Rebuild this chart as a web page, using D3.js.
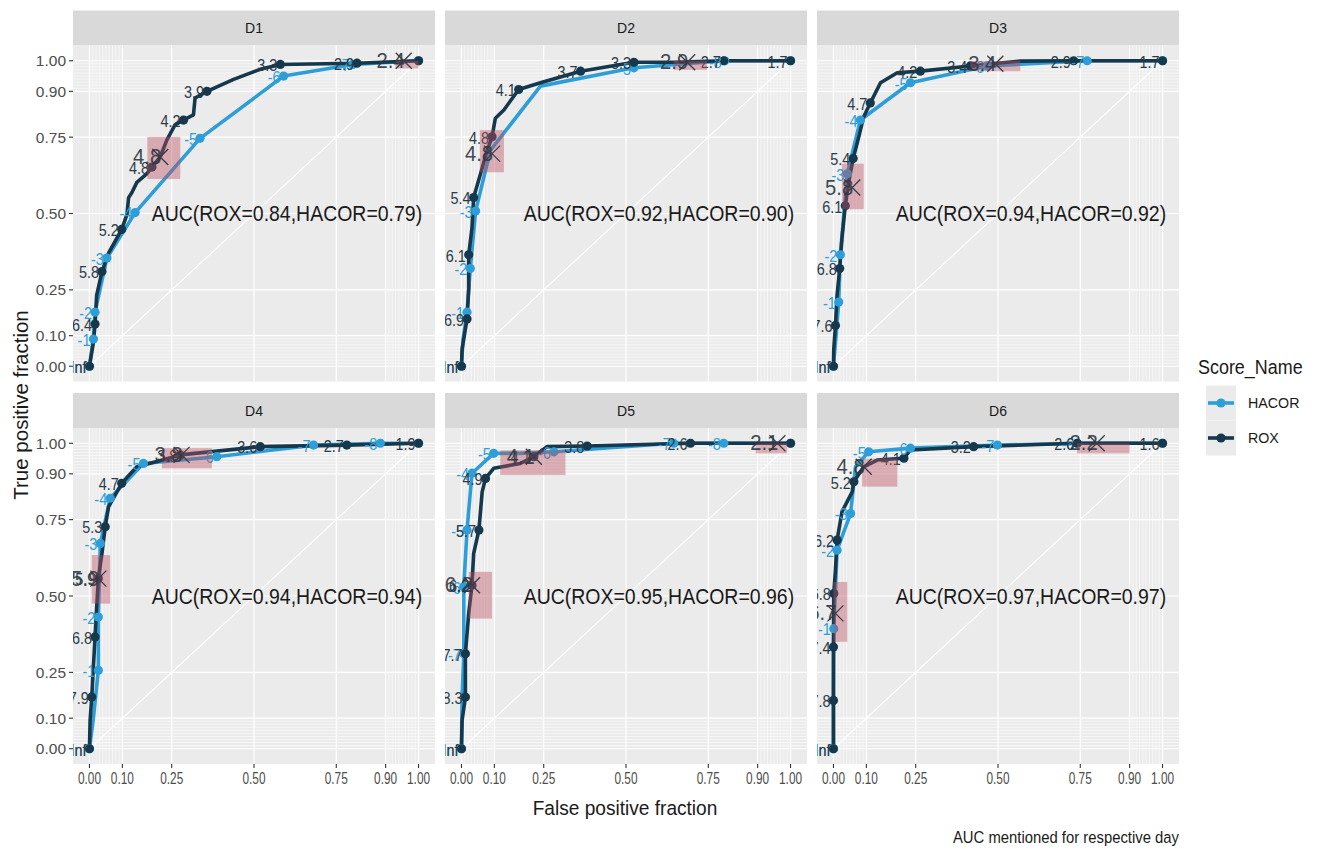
<!DOCTYPE html>
<html><head><meta charset="utf-8">
<script src="https://cdn.jsdelivr.net/npm/d3@7"></script>
<style>body{margin:0;background:#fff;} svg{display:block;font-family:"Liberation Sans",Arial,Helvetica,sans-serif;}</style>
</head><body><svg id="c" width="1336" height="849"></svg>
<script>
// ---------- data ----------
const days = ["D1","D2","D3","D4","D5","D6"];
const aucText = ["AUC(ROX=0.84,HACOR=0.79)","AUC(ROX=0.92,HACOR=0.90)","AUC(ROX=0.94,HACOR=0.92)",
                 "AUC(ROX=0.94,HACOR=0.94)","AUC(ROX=0.95,HACOR=0.96)","AUC(ROX=0.97,HACOR=0.97)"];
const scores = ["HACOR","ROX"];
const tickBreaks = [0,0.1,0.25,0.5,0.75,0.9,1];
const tickLabels = ["0.00","0.10","0.25","0.50","0.75","0.90","1.00"];
const minorBreaks = [0.01,0.02,0.03,0.04,0.05,0.06,0.07,0.08,0.09,0.91,0.92,0.93,0.94,0.95,0.96,0.97,0.98,0.99];

// ROC curves [FPF, TPF]
const roxD1 = [[0,0],[0.012,0.078],[0.017,0.138],[0.022,0.233],[0.038,0.31],[0.058,0.37],[0.098,0.448],[0.114,0.497],[0.119,0.552],[0.129,0.569],[0.144,0.602],[0.174,0.63],[0.19,0.652],[0.215,0.685],[0.235,0.74],[0.26,0.79],[0.286,0.806],[0.316,0.823],[0.321,0.878],[0.357,0.9],[0.438,0.939],[0.519,0.972],[0.58,0.988],[0.813,0.992],[1,1]];
const hacorD1 = [[0,0],[0.007,0.056],[0.012,0.089],[0.017,0.177],[0.053,0.354],[0.139,0.503],[0.336,0.746],[0.59,0.95],[0.8,0.988],[1,1]];
const roxD2 = [[0,0],[0.002,0.056],[0.017,0.155],[0.022,0.254],[0.022,0.365],[0.032,0.453],[0.037,0.552],[0.058,0.63],[0.078,0.707],[0.093,0.751],[0.103,0.812],[0.129,0.839],[0.174,0.906],[0.24,0.928],[0.362,0.966],[0.524,0.995],[0.645,0.995],[0.797,1.0],[1,1]];
const hacorD2 = [[0,0],[0.005,0.09],[0.017,0.177],[0.027,0.32],[0.043,0.508],[0.088,0.707],[0.24,0.917],[0.524,0.977],[0.8,1.0],[1,1]];
const roxD3 = [[0,0],[0.001,0.056],[0.006,0.133],[0.011,0.232],[0.019,0.32],[0.026,0.42],[0.036,0.525],[0.047,0.607],[0.06,0.68],[0.077,0.751],[0.092,0.817],[0.112,0.862],[0.143,0.928],[0.194,0.961],[0.264,0.966],[0.416,0.983],[0.568,0.999],[0.73,1.0],[1,1]];
const hacorD3 = [[0,0],[0.008,0.1],[0.016,0.21],[0.021,0.365],[0.042,0.63],[0.082,0.806],[0.234,0.928],[0.467,0.983],[0.771,1.0],[1,1]];
const roxD4 = [[0,0],[0.002,0.093],[0.007,0.169],[0.012,0.268],[0.017,0.366],[0.022,0.464],[0.027,0.557],[0.038,0.639],[0.048,0.727],[0.058,0.792],[0.098,0.869],[0.144,0.923],[0.205,0.94],[0.276,0.962],[0.519,0.989],[0.782,0.994],[1,1]];
const hacorD4 = [[0,0],[0.012,0.1],[0.027,0.257],[0.027,0.431],[0.033,0.672],[0.063,0.82],[0.164,0.934],[0.387,0.956],[0.681,0.994],[0.884,1.0],[1,1]];
const roxD5 = [[0,0],[0.002,0.093],[0.012,0.169],[0.012,0.311],[0.022,0.443],[0.032,0.535],[0.037,0.639],[0.053,0.716],[0.063,0.841],[0.073,0.885],[0.098,0.918],[0.179,0.934],[0.22,0.956],[0.26,0.989],[0.382,0.991],[0.696,1.0],[1,1]];
const hacorD5 = [[0,0],[0.002,0.169],[0.007,0.311],[0.007,0.53],[0.017,0.716],[0.032,0.902],[0.098,0.967],[0.179,0.967],[0.281,0.972],[0.645,1.0],[0.797,1.0],[1,1]];
const roxD6 = [[0,0],[0,0.158],[0,0.333],[0.001,0.508],[0.006,0.585],[0.011,0.683],[0.026,0.776],[0.057,0.841],[0.062,0.874],[0.092,0.923],[0.133,0.945],[0.214,0.951],[0.234,0.978],[0.426,0.989],[0.741,1.0],[1,1]];
const hacorD6 = [[0,0],[0,0.2],[0.001,0.393],[0.011,0.65],[0.052,0.77],[0.067,0.923],[0.107,0.972],[0.234,0.984],[0.498,0.994],[0.741,1.0],[1,1]];

// labelled cut-off points [FPF, TPF, label]
const roxCutD1 = [[0,0,"Inf"],[0.017,0.138,"6.4"],[0.038,0.31,"5.8"],[0.098,0.448,"5.2"],[0.19,0.652,"4.8"],[0.286,0.806,"4.2"],[0.357,0.9,"3.9"],[0.58,0.988,"3.3"],[0.813,0.992,"2.9"],[1,1,""]];
const hacorCutD1 = [[0,0,"Inf"],[0.012,0.089,"-1"],[0.017,0.177,"-2"],[0.053,0.354,"-3"],[0.139,0.503,"-4"],[0.336,0.746,"-5"],[0.59,0.95,"-6"],[0.8,0.988,"-7"],[1,1,""]];
const roxCutD2 = [[0,0,"Inf"],[0.017,0.155,"6.9"],[0.022,0.365,"6.1"],[0.037,0.552,"5.4"],[0.093,0.751,"4.8"],[0.174,0.906,"4.1"],[0.362,0.966,"3.7"],[0.524,0.995,"3.3"],[0.797,1.0,"2.7"],[1,1,"1.7"]];
const hacorCutD2 = [[0,0,"Inf"],[0.017,0.177,"-1"],[0.027,0.32,"-2"],[0.043,0.508,"-3"],[0.524,0.977,"-5"],[0.8,1.0,"-8"],[1,1,""]];
const roxCutD3 = [[0,0,"Inf"],[0.006,0.133,"7.6"],[0.019,0.32,"6.8"],[0.036,0.525,"6.1"],[0.06,0.68,"5.4"],[0.112,0.862,"4.7"],[0.264,0.966,"4.2"],[0.416,0.983,"3.4"],[0.73,1.0,"2.9"],[1,1,"1.7"]];
const hacorCutD3 = [[0,0,"Inf"],[0.016,0.21,"-1"],[0.021,0.365,"-2"],[0.042,0.63,"-3"],[0.082,0.806,"-4"],[0.234,0.928,"-5"],[0.467,0.983,"-6"],[0.771,1.0,"-7"],[1,1,""]];
const roxCutD4 = [[0,0,"Inf"],[0.007,0.169,"7.9"],[0.017,0.366,"6.8"],[0.027,0.557,"5.9"],[0.048,0.727,"5.3"],[0.098,0.869,"4.7"],[0.276,0.962,"3.8"],[0.519,0.989,"3.6"],[0.782,0.994,"2.7"],[1,1,"1.9"]];
const hacorCutD4 = [[0,0,"Inf"],[0.027,0.257,"-1"],[0.027,0.431,"-2"],[0.033,0.672,"-3"],[0.063,0.82,"-4"],[0.164,0.934,"-5"],[0.387,0.956,"-6"],[0.681,0.994,"-7"],[0.884,1.0,"-8"],[1,1,""]];
const roxCutD5 = [[0,0,"Inf"],[0.012,0.169,"8.3"],[0.012,0.311,"7.7"],[0.032,0.535,"6.2"],[0.053,0.716,"5.7"],[0.073,0.885,"4.9"],[0.22,0.956,"4.1"],[0.382,0.991,"3.8"],[0.696,1.0,"2.6"],[1,1,""]];
const hacorCutD5 = [[0,0,"Inf"],[0.007,0.311,"-7"],[0.007,0.53,"-6"],[0.017,0.716,"-5"],[0.032,0.902,"-4"],[0.098,0.967,"-5"],[0.281,0.972,"-6"],[0.645,1.0,"-7"],[0.797,1.0,"-8"],[1,1,""]];
const roxCutD6 = [[0,0,"Inf"],[0,0.158,"7.8"],[0,0.333,"7.4"],[0.001,0.508,"6.8"],[0.011,0.683,"6.2"],[0.062,0.874,"5.2"],[0.214,0.951,"4.1"],[0.426,0.989,"3.2"],[0.741,1.0,"2.6"],[1,1,"1.6"]];
const hacorCutD6 = [[0,0,"Inf"],[0.001,0.393,"-1"],[0.011,0.65,"-2"],[0.052,0.77,"-3"],[0.107,0.972,"-5"],[0.234,0.984,"-6"],[0.498,0.994,"-7"],[0.741,1.0,"-8"],[1,1,""]];

// optimal cut-off confidence boxes [fpfLo, fpfHi, tpfLo, tpfHi, fpf, tpf, label]
const optD1 = [[0.176,0.276,0.613,0.751,0.215,0.685,"4.8"],[0.93,1.0,0.975,1.0,0.955,1.0,"2.4"]];
const optD2 = [[0.056,0.129,0.635,0.773,0.093,0.696,"4.8"],[0.645,0.746,0.97,1.0,0.686,0.995,"2.9"]];
const optD3 = [[0.026,0.092,0.514,0.663,0.057,0.585,"5.8"],[0.416,0.568,0.966,1.0,0.492,0.99,"3.4"]];
const optD4 = [[0.007,0.063,0.475,0.634,0.027,0.557,"5.9"],[0.22,0.372,0.918,0.984,0.28,0.962,"3.8"]];
const optD5 = [[0.022,0.093,0.426,0.579,0.032,0.535,"6.2"],[0.118,0.316,0.896,0.977,0.22,0.956,"4.1"],[0.894,0.99,0.967,1.0,0.96,1.0,"2.1"]];
const optD6 = [[0,0.042,0.35,0.546,0.006,0.443,"6.7"],[0.087,0.194,0.858,0.95,0.092,0.923,"4.8"],[0.74,0.9,0.967,1.0,0.8,1.0,"2.2"]];

const roxCurves = [roxD1,roxD2,roxD3,roxD4,roxD5,roxD6];
const hacorCurves = [hacorD1,hacorD2,hacorD3,hacorD4,hacorD5,hacorD6];
const roxCuts = [roxCutD1,roxCutD2,roxCutD3,roxCutD4,roxCutD5,roxCutD6];
const hacorCuts = [hacorCutD1,hacorCutD2,hacorCutD3,hacorCutD4,hacorCutD5,hacorCutD6];
const opts = [optD1,optD2,optD3,optD4,optD5,optD6];

// ---------- style / layout ----------
const colHacor = "#2e9ed8", colRox = "#15384d";
const colLefts = [73,445,817], panelW = 362;
const rowTops = [45.5,428], panelH = 336, stripH = 35;

const svg = d3.select("#c");
function txt(parent, x, y, s, o) {
  o = o || {};
  const t = parent.append("text")
    .attr("transform", `translate(${x},${y})` + (o.rot ? ` rotate(${o.rot})` : "") + ` scale(${o.sx||1},1)`)
    .attr("text-anchor", o.anchor || "start")
    .attr("font-size", o.size || 14)
    .attr("fill", o.fill || "#4d4d4d")
    .text(s);
  if (o.baseline) t.attr("dominant-baseline", o.baseline);
  if (o.opacity) t.attr("opacity", o.opacity);
  if (o.weight) t.attr("font-weight", o.weight);
  return t;
}

const defs = svg.append("defs");

days.forEach((day, i) => {
  const r = Math.floor(i / 3), c = i % 3;
  const L = colLefts[c], T = rowTops[r];
  const x = d3.scaleLinear().domain([-0.05, 1.05]).range([L, L + panelW]);
  const y = d3.scaleLinear().domain([-0.05, 1.05]).range([T + panelH, T]);

  // strip
  svg.append("rect").attr("x", L).attr("y", T - stripH).attr("width", panelW).attr("height", stripH).attr("fill", "#d9d9d9");
  txt(svg, L + panelW / 2, T - stripH / 2, day, {anchor: "middle", baseline: "central", size: 14, fill: "#1a1a1a"});

  // panel background + grid
  svg.append("rect").attr("x", L).attr("y", T).attr("width", panelW).attr("height", panelH).attr("fill", "#ebebeb");
  const g = svg.append("g");
  minorBreaks.forEach(b => {
    g.append("line").attr("x1", x(b)).attr("x2", x(b)).attr("y1", T).attr("y2", T + panelH).attr("stroke", "#fff").attr("stroke-width", 0.6);
    g.append("line").attr("y1", y(b)).attr("y2", y(b)).attr("x1", L).attr("x2", L + panelW).attr("stroke", "#fff").attr("stroke-width", 0.6);
  });
  tickBreaks.forEach(b => {
    g.append("line").attr("x1", x(b)).attr("x2", x(b)).attr("y1", T).attr("y2", T + panelH).attr("stroke", "#fff").attr("stroke-width", 1.2);
    g.append("line").attr("y1", y(b)).attr("y2", y(b)).attr("x1", L).attr("x2", L + panelW).attr("stroke", "#fff").attr("stroke-width", 1.2);
  });
  g.append("line").attr("x1", x(0)).attr("y1", y(0)).attr("x2", x(1)).attr("y2", y(1)).attr("stroke", "#fff").attr("stroke-width", 1.1);

  // clip
  const cid = "clip" + i;
  defs.append("clipPath").attr("id", cid).append("rect").attr("x", L).attr("y", T).attr("width", panelW).attr("height", panelH);
  const p = svg.append("g").attr("clip-path", `url(#${cid})`);

  const line = d3.line().x(d => x(d[0])).y(d => y(d[1]));
  const series = [[hacorCurves[i], hacorCuts[i], colHacor], [roxCurves[i], roxCuts[i], colRox]];
  series.forEach(([curve, cuts, col]) => {
    p.append("path").datum(curve).attr("d", line).attr("fill", "none").attr("stroke", col)
      .attr("stroke-width", 3.6).attr("stroke-linejoin", "round").attr("stroke-linecap", "round");
  });
  series.forEach(([curve, cuts, col]) => {
    p.selectAll(null).data(cuts).enter().append("circle")
      .attr("cx", d => x(d[0])).attr("cy", d => y(d[1])).attr("r", 4.6).attr("fill", col);
  });
  series.forEach(([curve, cuts, col]) => {
    cuts.forEach(d => {
      if (d[2]) txt(p, x(d[0]) - 3, y(d[1]) + 1, d[2], {anchor: "end", baseline: "central", size: 16, fill: col === colRox ? "#2a3b47" : col, sx: 0.9});
    });
  });

  // optimal cut-off boxes
  opts[i].forEach(o => {
    p.append("rect").attr("x", x(o[0])).attr("y", y(o[3])).attr("width", x(o[1]) - x(o[0])).attr("height", y(o[2]) - y(o[3]))
      .attr("fill", "#b9525f").attr("opacity", 0.42);
  });
  opts[i].forEach(o => {
    const cx = x(o[4]), cy = y(o[5]), h = 8;
    p.append("path").attr("d", `M${cx - h},${cy - h}L${cx + h},${cy + h}M${cx - h},${cy + h}L${cx + h},${cy - h}`)
      .attr("stroke", "#3a3d45").attr("stroke-width", 1.3).attr("fill", "none");
    txt(p, cx + 1, cy + 7, o[6], {anchor: "end", size: 22, fill: "#303844", sx: 0.92, opacity: 0.9});
  });

  // AUC text
  txt(p, x(0.6), y(0.5), aucText[i], {anchor: "middle", baseline: "central", size: 22, fill: "#1a1a1a", sx: 0.885});

  // axes
  if (c === 0) {
    tickBreaks.forEach((b, k) => {
      svg.append("line").attr("x1", L - 4).attr("x2", L).attr("y1", y(b)).attr("y2", y(b)).attr("stroke", "#333").attr("stroke-width", 1.1);
      txt(svg, L - 7, y(b), tickLabels[k], {anchor: "end", baseline: "central", size: 15.5, fill: "#4d4d4d"});
    });
  }
  if (r === 1) {
    tickBreaks.forEach((b, k) => {
      svg.append("line").attr("x1", x(b)).attr("x2", x(b)).attr("y1", T + panelH).attr("y2", T + panelH + 4).attr("stroke", "#333").attr("stroke-width", 1.1);
      txt(svg, x(b), T + panelH + 20, tickLabels[k], {anchor: "middle", size: 16, fill: "#4d4d4d", sx: 0.74});
    });
  }
});

// axis titles
txt(svg, 20, 405, "True positive fraction", {anchor: "middle", baseline: "central", size: 20.5, fill: "#1a1a1a", rot: -90});
txt(svg, 625, 815, "False positive fraction", {anchor: "middle", size: 19.5, fill: "#1a1a1a", sx: 0.98});
txt(svg, 1179, 843, "AUC mentioned for respective day", {anchor: "end", size: 16.5, fill: "#1a1a1a", sx: 0.9});

// legend
const lg = svg.append("g");
txt(lg, 1198, 374, "Score_Name", {size: 19.5, fill: "#1a1a1a", sx: 0.92});
scores.forEach((s, k) => {
  const cy = 403 + k * 35;
  const col = s === "HACOR" ? colHacor : colRox;
  lg.append("rect").attr("x", 1206).attr("y", cy - 17.5).attr("width", 30).attr("height", 35).attr("fill", "#ebebeb");
  lg.append("line").attr("x1", 1208).attr("x2", 1234).attr("y1", cy).attr("y2", cy).attr("stroke", col).attr("stroke-width", 3.6);
  lg.append("circle").attr("cx", 1221).attr("cy", cy).attr("r", 4.6).attr("fill", col);
  txt(lg, 1248, cy, s, {baseline: "central", size: 15.5, fill: "#1a1a1a", sx: 0.92});
});
</script></body></html>
